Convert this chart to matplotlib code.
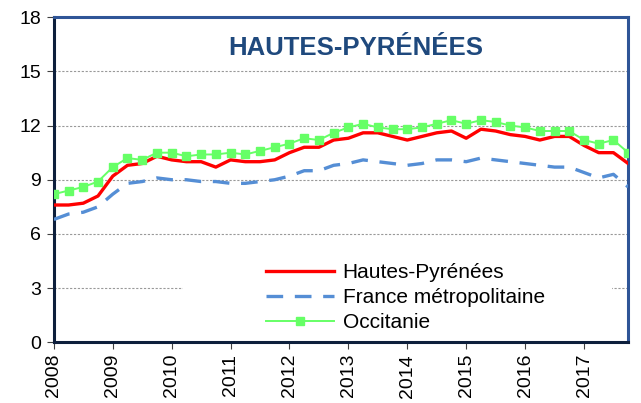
import matplotlib.pyplot as plt
from matplotlib.patches import Rectangle
import numpy as np

plt.rcParams['font.family'] = ['Liberation Sans', 'DejaVu Sans']

# Quarterly unemployment rate (%), 2008 Q1 - 2017 Q4
years = ['2008', '2009', '2010', '2011', '2012', '2013', '2014', '2015', '2016', '2017']

hautes_pyrenees = [7.6, 7.6, 7.7, 8.1, 9.2, 9.8, 9.9, 10.3, 10.1, 10.0,
                   10.0, 9.7, 10.1, 10.0, 10.0, 10.1, 10.5, 10.8, 10.8, 11.2,
                   11.3, 11.6, 11.6, 11.4, 11.2, 11.4, 11.6, 11.7, 11.3, 11.8,
                   11.7, 11.5, 11.4, 11.2, 11.4, 11.4, 10.9, 10.5, 10.5, 9.9]
france_metro = [6.8, 7.1, 7.2, 7.5, 8.2, 8.8, 8.9, 9.1, 9.0, 9.0,
                8.9, 8.9, 8.8, 8.8, 8.9, 9.0, 9.2, 9.5, 9.5, 9.8,
                9.9, 10.1, 10.0, 9.9, 9.8, 9.9, 10.1, 10.1, 10.0, 10.2,
                10.1, 10.0, 9.9, 9.8, 9.7, 9.7, 9.4, 9.1, 9.3, 8.6]
occitanie = [8.2, 8.4, 8.6, 8.9, 9.7, 10.2, 10.1, 10.5, 10.5, 10.3,
             10.4, 10.4, 10.5, 10.4, 10.6, 10.8, 11.0, 11.3, 11.2, 11.6,
             11.9, 12.1, 11.9, 11.8, 11.8, 11.9, 12.1, 12.3, 12.1, 12.3,
             12.2, 12.0, 11.9, 11.7, 11.7, 11.7, 11.2, 11.0, 11.2, 10.5]

x = np.arange(len(hautes_pyrenees))

fig = plt.figure(figsize=(6.41, 4.03), dpi=100)
ax = fig.add_axes([0.084, 0.151, 0.896, 0.806])

ax.plot(x, hautes_pyrenees, color='#FF0000', lw=2.4, label='Hautes-Pyrénées', zorder=4)
ax.plot(x, france_metro, color='#558ED5', lw=2.4, ls=(0, (5, 3.5)),
        label='France métropolitaine', zorder=3)
ax.plot(x, occitanie, color='#66FF66', lw=1.4, marker='s', ms=6,
        label='Occitanie', zorder=5)

ax.set_xlim(0, 39)
ax.set_ylim(0, 18)
ax.set_yticks(np.arange(0, 19, 3))
ax.set_xticks(np.arange(0, 40, 4))
ax.set_xticklabels(years, rotation=90)
ax.tick_params(axis='both', labelsize=14, direction='out', length=5, width=0.8,
               color='#404040')
ax.tick_params(axis='y', pad=4)

for yv in range(3, 18, 3):
    ax.axhline(yv, color='#999999', lw=0.8, ls=(0, (2, 1.5)), zorder=1)

for side in ['top', 'right']:
    ax.spines[side].set_color('#2F5597')
    ax.spines[side].set_linewidth(2.2)
for side in ['left', 'bottom']:
    ax.spines[side].set_color('#0D1F3C')
    ax.spines[side].set_linewidth(2.2)

# white box behind legend hides the grid there
ax.add_patch(Rectangle((0.225, 0.005), 0.747, 0.29, transform=ax.transAxes,
                       facecolor='white', edgecolor='none', zorder=2))
ax.legend(loc='lower left', bbox_to_anchor=(0.336, -0.028), frameon=False,
          fontsize=15, handlelength=3.3, handletextpad=0.4, labelspacing=0.3)

ax.text(0.525, 0.905, 'HAUTES-PYRÉNÉES', transform=ax.transAxes, ha='center',
        va='center', fontsize=18.5, fontweight='bold', color='#1F497D')

fig.savefig('out.png', dpi=100)
